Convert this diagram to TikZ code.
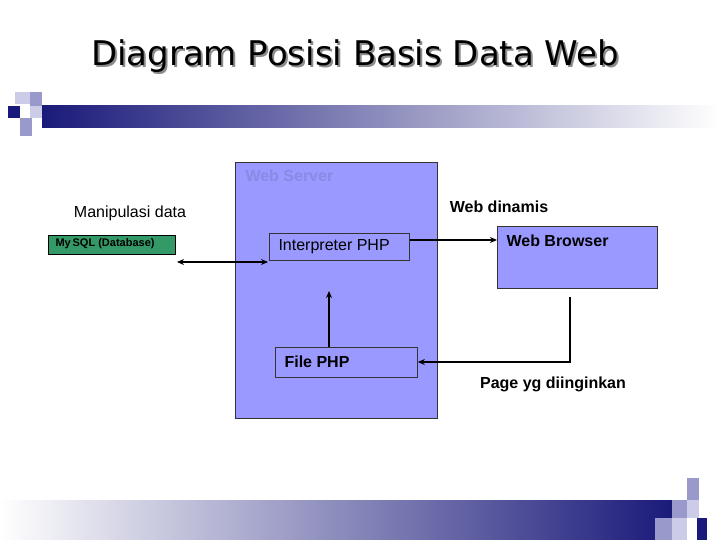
\documentclass[tikz,border=0pt]{standalone}
\usepackage{fontspec}
\setmainfont{Liberation Sans}
\newfontfamily\titlefont{DejaVu Sans}
\usetikzlibrary{arrows.meta}
\definecolor{navy}{HTML}{1A1A7A}
\definecolor{lav}{HTML}{9999CC}
\definecolor{lightlav}{HTML}{CCCCE8}
\definecolor{srv}{HTML}{9999FF}
\definecolor{grn}{HTML}{339966}
\tikzset{
  box/.style={draw=black!80, fill=srv, inner sep=0pt, line width=0.8pt},
  lbl/.style={font=\fontsize{16}{18}\selectfont, anchor=center},
  conn/.style={line width=1.5pt, -{Stealth[length=7pt,width=6pt]}}
}
\begin{document}
\begin{tikzpicture}[x=1pt,y=-1pt]
\useasboundingbox (0,0) rectangle (720,540);
\fill[white] (0,0) rectangle (720,540);
% title
\node[font=\titlefont\fontsize{34}{38}\selectfont, text=black!45] (t2) at (357,58) {Diagram Posisi Basis Data Web};
\node[font=\titlefont\fontsize{34}{38}\selectfont] (title) at (355,56) {Diagram Posisi Basis Data Web};
% top decoration
\shade[left color=navy, right color=white] (42,106) rectangle (720,128);
\fill[lightlav] (15,92) rectangle (30,104);
\fill[lav] (30,92) rectangle (42,106);
\fill[navy] (8,106) rectangle (20,118);
\fill[lightlav] (30,106) rectangle (42,118);
\fill[lav] (20,118) rectangle (32,136);
% bottom decoration
\shade[left color=white, right color=navy] (0,500) rectangle (672,540);
\fill[lav] (687,478) rectangle (699,500);
\fill[lav] (672,500) rectangle (687,518);
\fill[lightlav] (687,500) rectangle (699,518);
\fill[lav] (655,518) rectangle (672,540);
\fill[lightlav] (672,518) rectangle (687,540);
\fill[navy] (697,518) rectangle (707,540);
% web server
\node[box, minimum width=202pt, minimum height=256pt] (srv) at (336,290) {};
\node[font=\bfseries\fontsize{16}{18}\selectfont, text=srv!90!black, anchor=west] (srvl) at (242,176) {Web Server};
\node[box, minimum width=140pt, minimum height=27pt, anchor=north west] (interp) at (269,233) {};
\node[font=\fontsize{16}{18}\selectfont, anchor=west] (interpl) at (275,247) {Interpreter PHP};
\node[box, minimum width=142pt, minimum height=30pt, anchor=north west] (file) at (275,347) {};
\node[font=\bfseries\fontsize{16}{18}\selectfont, anchor=west] (filel) at (281,362) {File PHP};
\node[box, minimum width=160pt, minimum height=62pt, anchor=north west] (browser) at (497,226) {};
\node[font=\bfseries\fontsize{16}{18}\selectfont, anchor=west] (browserl) at (503,241) {Web Browser};
\node[draw=black, fill=grn, minimum width=127pt, minimum height=19pt, inner sep=0pt, anchor=north west] (mysql) at (48,235) {};
\node[font=\bfseries\fontsize{11}{13}\selectfont, anchor=west] (mysqll) at (52,244) {My\,SQL (Database)};
% labels
\node[lbl] (manip) at (130,213) {Manipulasi data};
\node[lbl, font=\bfseries\fontsize{16}{18}\selectfont] (dyn) at (499,207) {Web dinamis};
\node[lbl, font=\bfseries\fontsize{16}{18}\selectfont] (page) at (553,384) {Page yg diinginkan};
% connectors
\coordinate (dl) at (177,262);
\coordinate (dr) at (268,262);
\draw[line width=1.5pt, {Stealth[length=7pt,width=6pt]}-{Stealth[length=7pt,width=6pt]}] (dl) -- (dr);
\draw[conn] (interp.east |- 0,240) -- (browser.west |- 0,240);
\coordinate (up) at (329,291);
\draw[conn] (file.north -| up) -- (up);
\coordinate (bd) at (570,297);
\draw[conn] (bd) -- (570,362) -- (file.east |- 0,362);
\end{tikzpicture}
\end{document}
